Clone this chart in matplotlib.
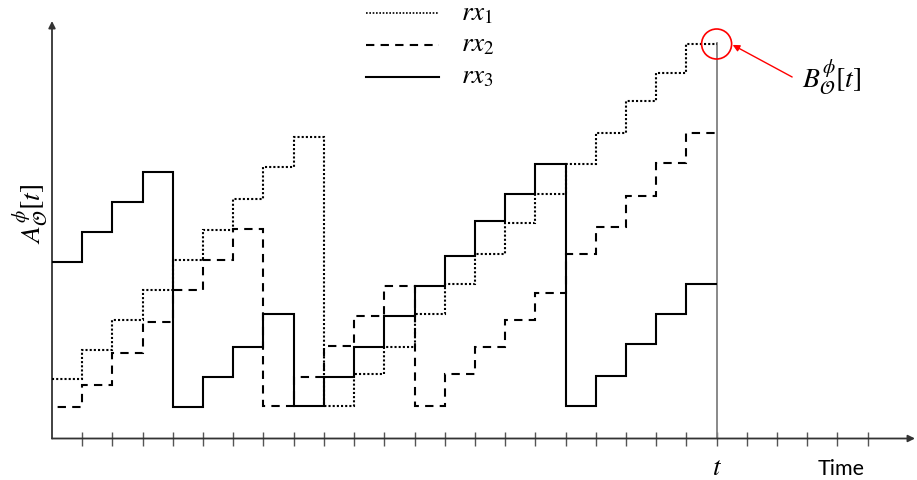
import numpy as np
import matplotlib
matplotlib.use("Agg")
import matplotlib.pyplot as plt
from matplotlib.patches import Ellipse
from matplotlib.lines import Line2D

plt.rcParams['mathtext.fontset'] = 'stix'

# ---- data (step levels per time slot) ----
time_edges = list(range(0, 23))          # slots 0..22, t = 22
rx1 = [2.0, 2.95, 3.95, 4.95, 5.95, 6.95, 8.0, 9.05, 10.05, 1.1, 2.15,
       3.05, 4.15, 5.15, 6.15, 7.2, 8.15, 9.15, 10.2, 11.25, 12.2, 13.15]
rx2 = [1.05, 1.8, 2.85, 3.9, 4.95, 5.95, 7.0, 1.1, 2.05, 3.1, 4.1,
       5.1, 1.1, 2.15, 3.05, 3.95, 4.85, 6.15, 7.05, 8.1, 9.2, 10.2]
rx3 = [5.9, 6.9, 7.9, 8.9, 1.05, 2.05, 3.05, 4.15, 1.1, 2.05, 3.05,
       4.1, 5.1, 6.1, 7.25, 8.15, 9.15, 1.1, 2.1, 3.15, 4.15, 5.15]
tick_positions = list(range(1, 28))
series_labels = [r'$rx_1$', r'$rx_2$', r'$rx_3$']
t_index = 22

W, H = 917, 481
XS = 30.21   # px per x unit
YS = 30.0    # px per y unit
x0_px, y0_px = 52, 439.5
xr_px, yt_px = 915, 22

fig = plt.figure(figsize=(W / 100, H / 100), dpi=100)
ax = fig.add_axes([x0_px / W, 1 - y0_px / H, (xr_px - x0_px) / W, (y0_px - yt_px) / H])
xmax = (xr_px - x0_px) / XS
ymax = (y0_px - yt_px) / YS
ax.set_xlim(0, xmax)
ax.set_ylim(0, ymax)
for s in ax.spines.values():
    s.set_visible(False)
ax.set_yticks([])
ax.set_xticks(tick_positions)
ax.tick_params(axis='x', direction='inout', length=10, width=1, color='#555555',
               labelbottom=False)

axis_col = '#333333'
ax.annotate('', xy=(xmax, 0), xytext=(0, 0),
            arrowprops=dict(arrowstyle='-|>', color=axis_col, lw=1.3, mutation_scale=10,
                            shrinkA=0, shrinkB=0), annotation_clip=False)
ax.annotate('', xy=(0, ymax), xytext=(0, 0),
            arrowprops=dict(arrowstyle='-|>', color=axis_col, lw=1.3, mutation_scale=10,
                            shrinkA=0, shrinkB=0), annotation_clip=False)

# vertical line at t
ax.plot([t_index, t_index], [0, 13.2], color='#808080', lw=1.3, zorder=2)

ls1 = (0, (1, 1))
ls2 = (4.3, (4, 3))
ax.stairs(rx3, time_edges, baseline=None, color='black', lw=1.5, linestyle='-', zorder=3)
ax.stairs(rx2, time_edges, baseline=None, color='black', lw=1.5, linestyle=ls2, zorder=3)
ax.stairs(rx1, time_edges, baseline=None, color='black', lw=1.5, linestyle=ls1, zorder=4)

# legend (manual)
def fx(px):
    return px / W

def fy(py):
    return 1 - py / H

MFS = 19.5
leg_y = [14.3, 46, 77.7]
styles = [ls1, ls2, '-']
for yy, st, lab in zip(leg_y, styles, series_labels):
    fig.add_artist(Line2D([fx(366), fx(439)], [fy(yy), fy(yy)], color='black',
                          lw=1.5 if st != ls1 else 1.2, linestyle=st if st != ls2 else (0, (4, 3))))
    fig.text(fx(461), fy(yy + 5.8), lab, fontsize=MFS, ha='left', va='baseline')

# highlight circle and arrow
end_val = rx1[-1]
ax.add_patch(Ellipse((t_index, end_val), 30 / XS, 30 / YS, fill=False,
                     edgecolor='red', lw=1.2, zorder=5, clip_on=False))
ax.annotate('', xy=(t_index + 0.53, end_val - 0.03), xytext=(t_index + 2.5, end_val - 1.1),
            arrowprops=dict(arrowstyle='-|>', color='red', lw=1.0, mutation_scale=10,
                            shrinkA=0, shrinkB=0), annotation_clip=False)
ax.text(t_index + 2.82, end_val - 1.4, r'$B_{\mathcal{O}}^{\phi}[t]$', fontsize=MFS + 0.5,
        ha='left', va='baseline')

# axis labels
fig.text(fx(31), fy(214), r'$A_{\mathcal{O}}^{\phi}[t]$', fontsize=MFS + 0.5, rotation=90,
         ha='center', va='center')
fig.text(fx(716.7), fy(475), r'$t$', fontsize=MFS, ha='center', va='baseline')
fig.text(fx(818), fy(475), 'Time', fontsize=15.5, family='Lato', ha='left', va='baseline')

fig.savefig('out.png', dpi=100)
